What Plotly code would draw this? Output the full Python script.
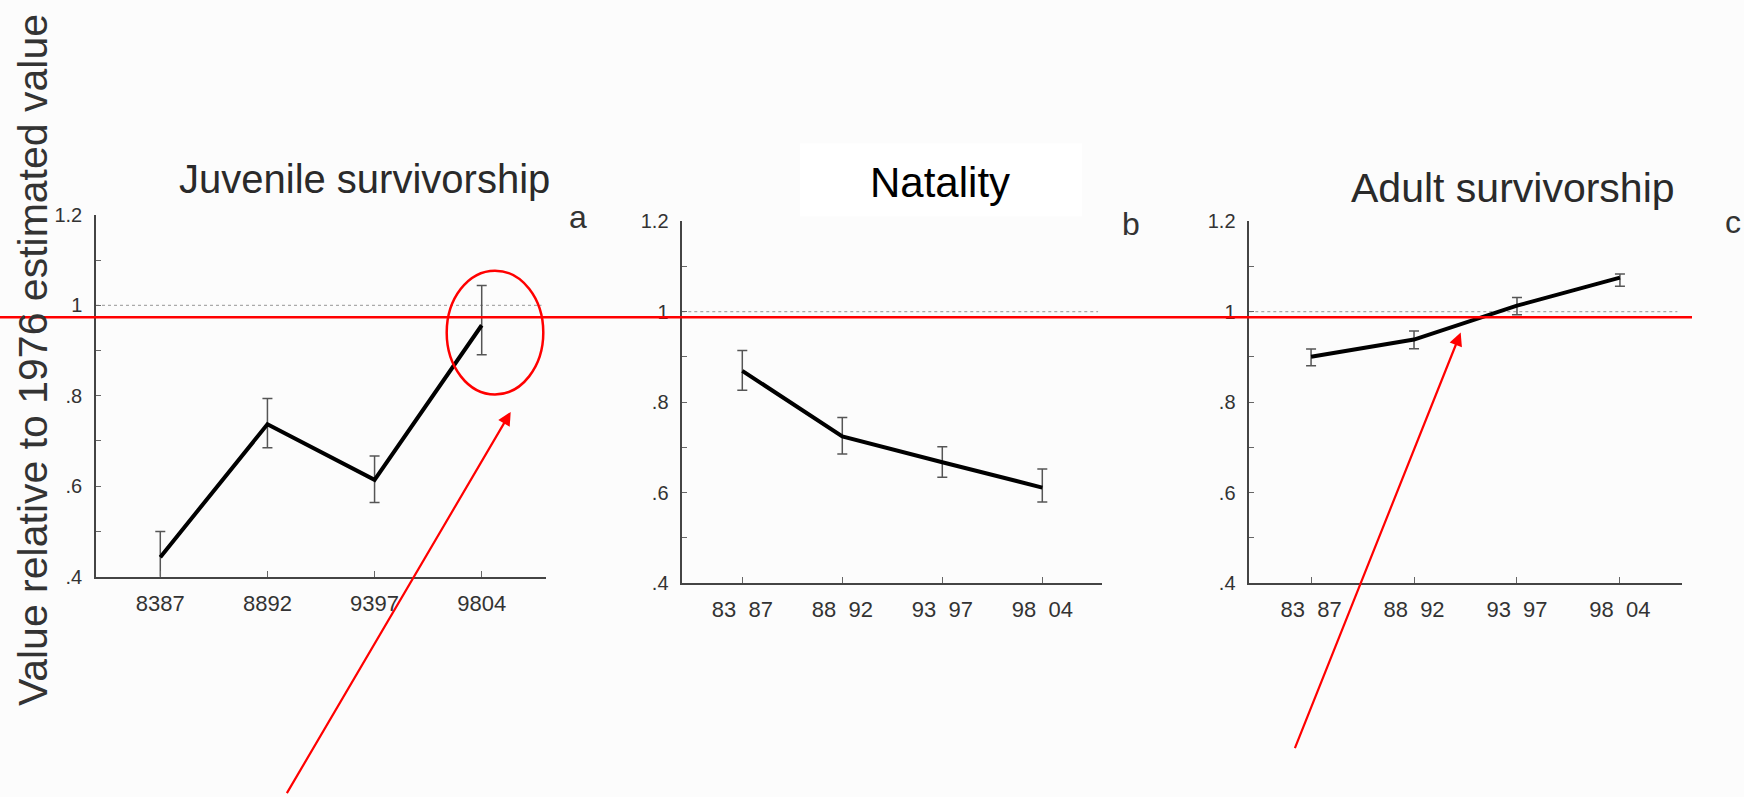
import plotly.graph_objects as go

W, H = 1744, 797

# ---- data ----
periods_a = ["8387", "8892", "9397", "9804"]
periods_bc = ["83\u00a0\u00a087", "88\u00a0\u00a092", "93\u00a0\u00a097", "98\u00a0\u00a004"]

juvenile = [0.443, 0.737, 0.614, 0.956]
juvenile_hi = [0.500, 0.794, 0.667, 1.044]
juvenile_lo = [0.386, 0.685, 0.564, 0.891]

natality = [0.869, 0.724, 0.667, 0.611]
natality_hi = [0.914, 0.766, 0.701, 0.652]
natality_lo = [0.826, 0.685, 0.634, 0.579]

adult = [0.900, 0.938, 1.013, 1.075]
adult_hi = [0.917, 0.957, 1.031, 1.083]
adult_lo = [0.880, 0.918, 0.993, 1.056]

panel_titles = ["Juvenile survivorship", "Natality", "Adult survivorship"]
panel_letters = ["a", "b", "c"]
y_title = "Value relative to 1976 estimated value"

ytick_vals = [0.4, 0.5, 0.6, 0.7, 0.8, 0.9, 1.0, 1.1, 1.2]
ytick_text = [".4", "", ".6", "", ".8", "", "1", "", "1.2"]
reference_level = 1.0

# ---- layout helpers ----
def px(x):
    return x / W

def py(y):
    return 1 - y / H

FONT = "Liberation Sans, Arial, Helvetica, sans-serif"
AXC = "#444"

panels = [
    dict(x=periods_a, y=juvenile, hi=juvenile_hi, lo=juvenile_lo,
         xdom=(96, 546), ydom=(209.7, 581.7)),
    dict(x=periods_bc, y=natality, hi=natality_hi, lo=natality_lo,
         xdom=(682.3, 1102.3), ydom=(216, 588.3)),
    dict(x=periods_bc, y=adult, hi=adult_hi, lo=adult_lo,
         xdom=(1249.3, 1681.7), ydom=(216, 588.3)),
]

fig = go.Figure()
layout = dict(
    width=W, height=H,
    margin=dict(l=0, r=0, t=0, b=0),
    paper_bgcolor="#fcfcfc",
    plot_bgcolor="rgba(0,0,0,0)",
    showlegend=False,
    font=dict(family=FONT, color="#333"),
)

shapes = []
annotations = []

for i, p in enumerate(panels):
    n = "" if i == 0 else str(i + 1)
    xa, ya = "x" + n, "y" + n
    err_plus = [h - v for h, v in zip(p["hi"], p["y"])]
    err_minus = [v - l for v, l in zip(p["y"], p["lo"])]
    fig.add_trace(go.Scatter(
        x=p["x"], y=p["y"], mode="lines",
        line=dict(color="black", width=4),
        error_y=dict(type="data", symmetric=False, array=err_plus,
                     arrayminus=err_minus, color="#555", thickness=1.5, width=5),
        xaxis=xa, yaxis=ya, hoverinfo="skip",
    ))
    layout["xaxis" + n] = dict(
        domain=[px(p["xdom"][0]), px(p["xdom"][1])],
        anchor=ya, type="category", range=[-0.6, 3.6],
        showgrid=False, zeroline=False,
        showline=True, linecolor=AXC, linewidth=1.5,
        ticks="inside", ticklen=6, tickcolor="#666", tickwidth=1,
        tickfont=dict(size=22, color="#333", family=FONT),
        ticklabelstandoff=6,
    )
    layout["yaxis" + n] = dict(
        domain=[py(p["ydom"][1]), py(p["ydom"][0])],
        anchor=xa, range=[0.4, 1.2],
        showgrid=False, zeroline=False,
        showline=True, linecolor=AXC, linewidth=1.5,
        ticks="inside", ticklen=5, tickcolor="#666", tickwidth=1,
        tickvals=ytick_vals, ticktext=ytick_text,
        tickfont=dict(size=20, color="#333", family=FONT),
        ticklabelstandoff=8,
    )
    # dotted reference line at 1
    shapes.append(dict(type="line", xref=xa + " domain", yref=ya,
                       x0=0, x1=0.99, y0=reference_level, y1=reference_level,
                       line=dict(color="#aaa", width=1.2, dash="dot"), layer="below"))

# white box behind "Natality"
shapes.insert(0, dict(type="rect", xref="paper", yref="paper",
                      x0=px(800), x1=px(1082), y0=py(211), y1=py(136),
                      fillcolor="white", line=dict(width=0), layer="below"))

# red horizontal line
shapes.append(dict(type="line", xref="paper", yref="paper",
                   x0=0, x1=px(1692), y0=py(315), y1=py(315),
                   line=dict(color="#ff0000", width=2.5)))
# red ellipse
shapes.append(dict(type="circle", xref="paper", yref="paper",
                   x0=px(446.7), x1=px(543.3), y0=py(394.4), y1=py(267),
                   line=dict(color="#ff0000", width=2.5)))

# red arrows
for tip, start in [((510.7, 412.3), (286, 795)), ((1460.7, 330.7), (1294.3, 747.7))]:
    annotations.append(dict(
        x=px(tip[0]), y=py(tip[1]), xref="paper", yref="paper",
        ax=start[0] - tip[0], ay=start[1] - tip[1], axref="pixel", ayref="pixel",
        text="", showarrow=True, arrowhead=2, arrowsize=1.2, arrowwidth=2.2,
        arrowcolor="#ff0000", standoff=0,
    ))

# panel titles
title_pos = [(364, 172.8, 40, "#2a2a2a"), (940, 176.1, 42, "black"), (1513, 181.8, 41, "#2a2a2a")]
for t, (x, y, s, c) in zip(panel_titles, title_pos):
    annotations.append(dict(x=px(x), y=py(y), xref="paper", yref="paper",
                            text=t, showarrow=False, xanchor="center", yanchor="middle",
                            font=dict(size=s, color=c, family=FONT)))

letter_pos = [(578, 212.2), (1131, 218.9), (1732.5, 217.2)]
for t, (x, y) in zip(panel_letters, letter_pos):
    annotations.append(dict(x=px(x), y=py(y), xref="paper", yref="paper",
                            text=t, showarrow=False, xanchor="center", yanchor="middle",
                            font=dict(size=32, color="#333", family=FONT)))

# y axis title
annotations.append(dict(x=px(33), y=py(359), xref="paper", yref="paper",
                        text=y_title, showarrow=False, textangle=-90,
                        xanchor="center", yanchor="middle",
                        font=dict(size=41, color="#333", family=FONT)))

layout["shapes"] = shapes
layout["annotations"] = annotations
fig.update_layout(**layout)
fig.write_html("out.html")
